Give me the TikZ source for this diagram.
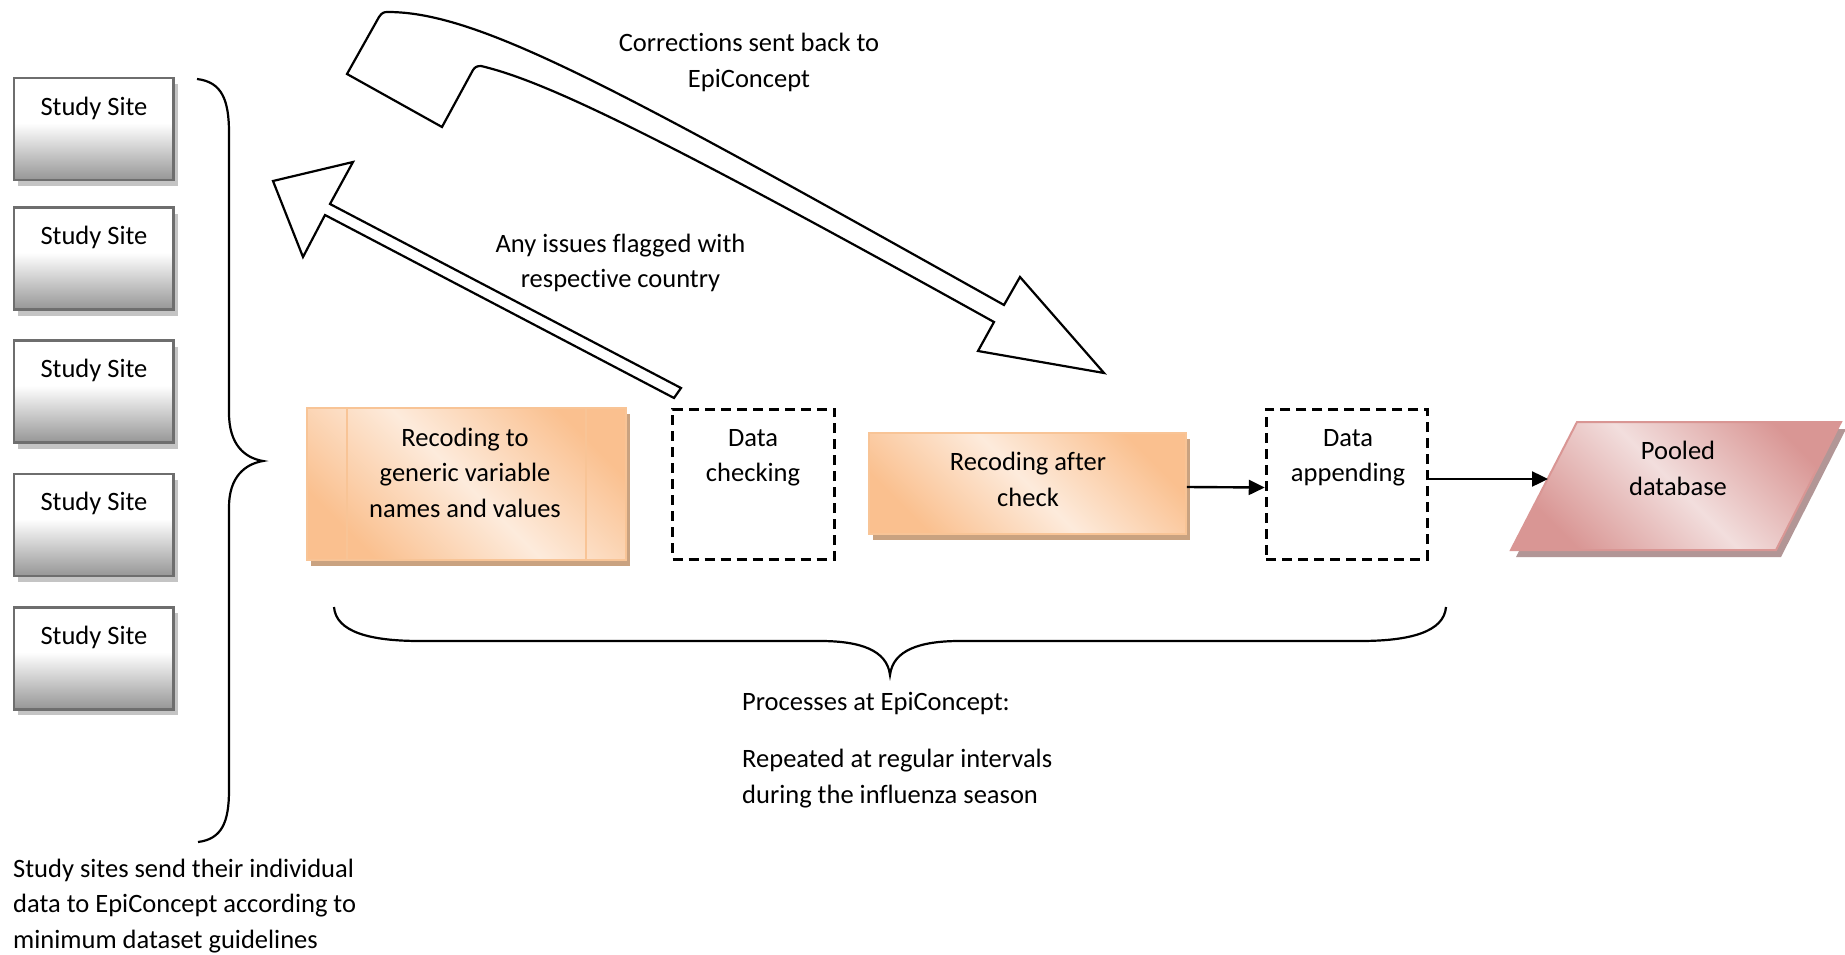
\documentclass[tikz,border=0pt]{standalone}
\usepackage{fontspec}
\setmainfont{Carlito}[Ligatures=NoCommon]
\usetikzlibrary{arrows.meta,shadows}

\definecolor{orD}{RGB}{250,192,143}
\definecolor{orL}{RGB}{253,235,220}
\definecolor{orLine}{RGB}{248,196,150}
\definecolor{orSh}{RGB}{201,162,128}
\definecolor{pkD}{RGB}{217,150,148}
\definecolor{pkL}{RGB}{242,222,221}
\definecolor{pkSh}{RGB}{178,150,150}
\definecolor{siteG}{RGB}{150,150,150}
\definecolor{siteB}{RGB}{110,110,110}
\definecolor{siteSh}{RGB}{196,196,196}

\pgfdeclareverticalshading{sitesh}{100bp}{color(0bp)=(siteG); color(25bp)=(siteG); color(53bp)=(white); color(100bp)=(white)}

\begin{document}
\begin{tikzpicture}[x=1pt,y=-1pt,
  txt/.style={font=\fontsize{26.5}{35.5}\selectfont, inner sep=0pt, align=center},
  site/.style={draw=siteB, line width=2.5pt, shading=sitesh, minimum width=159.5pt, minimum height=102pt, inner sep=0pt,
    drop shadow={shadow xshift=4pt, shadow yshift=-6pt, fill=siteSh, opacity=1}},
  recbox/.style={draw=orLine, line width=1.5pt, top color=orD, bottom color=orD, middle color=orL, shading angle=-45, inner sep=0pt,
    drop shadow={shadow xshift=4pt, shadow yshift=-6pt, fill=orSh, opacity=1}},
  dashbox/.style={draw=black, line width=3pt, dash pattern=on 10pt off 6pt, inner sep=0pt},
  arr/.style={line width=2.4pt, -{Triangle[length=16pt,width=15pt]}},
  blk/.style={draw=black, line width=2.2pt, fill=white, line join=miter},
  bracel/.style={draw=black, line width=2.2pt}
]
\useasboundingbox (0,0) rectangle (1845,955);
\fill[white] (0,0) rectangle (1845,955);

% study sites
\node[site] (s1) at (93.75,129.2) {};
\node[site] (s2) at (93.75,258.7) {};
\node[site] (s3) at (93.75,391.7) {};
\node[site] (s4) at (93.75,525) {};
\node[site] (s5) at (93.75,658.3) {};
\node[txt] (s1t) at (94,108) {Study Site};
\node[txt] (s2t) at (94,237) {Study Site};
\node[txt] (s3t) at (94,370) {Study Site};
\node[txt] (s4t) at (94,503.5) {Study Site};
\node[txt] (s5t) at (94,637) {Study Site};

% left brace
\draw[bracel] (197,79) .. controls (222,82) and (229,100) .. (229,133)
  -- (229,413) .. controls (229,445) and (245,458) .. (263,461)
  .. controls (245,464) and (229,477) .. (229,507)
  -- (229,790) .. controls (229,822) and (222,839) .. (198,842);

% recoding box 1
\node[recbox, minimum width=319pt, minimum height=152pt] (r1) at (466.5,484) {};
\draw[orLine, line width=2pt] ([xshift=40.5pt]r1.north west) -- ([xshift=40.5pt]r1.south west);
\draw[orLine, line width=2pt] ([xshift=-41pt]r1.north east) -- ([xshift=-41pt]r1.south east);
\node[txt] (r1t) at (465,472.5) {Recoding to\\generic variable\\names and values};

% data checking
\node[dashbox, minimum width=162pt, minimum height=150pt] (dc) at (753.5,484) {};
\node[txt] (dct) at (753,458) {Data\\checking};

% recoding after check
\node[recbox, minimum width=317pt, minimum height=101pt] (r2) at (1027.5,483.5) {};
\node[txt] (r2t) at (1028,479.5) {Recoding after\\check};

% data appending
\node[dashbox, minimum width=161pt, minimum height=150pt] (da) at (1346.75,484) {};
\node[txt] (dat) at (1348,458) {Data\\appending};

% pooled database parallelogram
\fill[pkSh] (1582,429) -- (1846,429) -- (1781,557) -- (1516,557) -- cycle;
\coordinate (p1) at (1577,422);
\coordinate (p2) at (1841,422);
\coordinate (p3) at (1776,550);
\coordinate (p4) at (1511,550);
\shade[top color=pkD, bottom color=pkD, middle color=pkL, shading angle=-45] (p1) -- (p2) -- (p3) -- (p4) -- cycle;
\draw[pkD, line width=2pt, line join=miter] (p1) -- (p2) -- (p3) -- (p4) -- cycle;
\coordinate (pdin) at (1548,479);
\node[txt] (pdt) at (1678,468.5) {Pooled\\database};

% arrows
\draw[arr] ([yshift=-3.5pt]r2.east) -- ([yshift=-3.5pt]da.west);
\draw[arr] ([yshift=5pt]da.east) -- (pdin);

% straight block arrow
\draw[blk] (681,388) -- (330,204) -- (353,162) -- (273,181) -- (303,257) -- (325,215) -- (674,398) -- cycle;

% curved block arrow
\draw[blk] (347,74) -- (379,17) .. controls (382,12.5) and (384,12) .. (388,12)
  .. controls (480,12) and (620,90) .. (1004,305)
  -- (1020,277) -- (1104,373) -- (978,351) -- (994,322)
  .. controls (640,125) and (540,80) .. (481,66)
  .. controls (477,66) and (475,67) .. (473,70)
  -- (442,127) -- cycle;

% bottom brace
\draw[bracel] (334,607) .. controls (336,632) and (370,641) .. (420,641)
  -- (820,641) .. controls (860,641) and (887,650) .. (890,675)
  .. controls (893,650) and (920,641) .. (960,641)
  -- (1360,641) .. controls (1410,641) and (1444,632) .. (1446,607);

% labels
\node[txt] (corr) at (749,62.5) {Corrections sent back to\\EpiConcept};
\node[txt] (issues) at (620.5,263) {Any issues flagged with\\respective country};
\node[txt, align=left, anchor=west] (sites) at (13,906) {Study sites send their individual\\data to EpiConcept according to\\minimum dataset guidelines};
\node[txt, align=left, anchor=west] (proc) at (742,704) {Processes at EpiConcept:};
\node[txt, align=left, anchor=west] (rep) at (742,778.5) {Repeated at regular intervals\\during the influenza season};
\end{tikzpicture}
\end{document}
